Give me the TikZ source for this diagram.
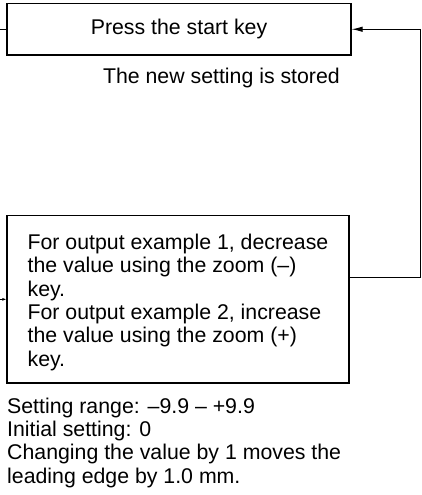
\documentclass[tikz,border=0pt]{standalone}
\usepackage{fontspec}
\setmainfont{Liberation Sans}
\usepackage{tikz}
\usetikzlibrary{positioning,arrows.meta}

\begin{document}
\begin{tikzpicture}[x=1pt, y=-1pt,
          box/.style={rectangle, draw=black, line width=1.3pt,
              font=\fontsize{21.3}{23.3}\selectfont, align=left},
          note/.style={inner sep=0pt, font=\fontsize{21.3}{23.3}\selectfont, align=left},
          arr/.style={-{Latex[length=11pt,width=5.5pt]}, line width=1pt},
          stub/.style={line width=1pt}
        ]
        \useasboundingbox (0,0) rectangle (422,495);
        \node[box, minimum width=344pt, minimum height=51.5pt] (press) at (179,29.25) {Press the start key};
        \node[note, anchor=base east] (stored) at (340,83) {The new setting is stored};
        \node[box, minimum width=342pt, minimum height=167.3pt] (zoomkey) at (178,299.35)
          {\rule{0pt}{21.5pt}For output example 1, decrease\\the value using the zoom (–)\\key.\\For output example 2, increase\\the value using the zoom (+)\\key.};
        \node[note, anchor=north west] (range) at (7,397.6)
          {Setting range: –9.9 – +9.9\\Initial setting: 0\\Changing the value by 1 moves the\\leading edge by 1.0 mm.};
        \coordinate (turn) at (420.7,277.7);
        \coordinate (lout) at (0,29.25);
        \coordinate (lin)  at (0,299.35);
        \draw[arr] (zoomkey.east |- turn) -- (turn) |- (press.east);
        \draw[stub] (press.west) -- (lout);
        \draw[-{Latex[length=4pt,width=3pt]}, line width=1pt] (lin) -- (zoomkey.west);
      \end{tikzpicture}
\end{document}
